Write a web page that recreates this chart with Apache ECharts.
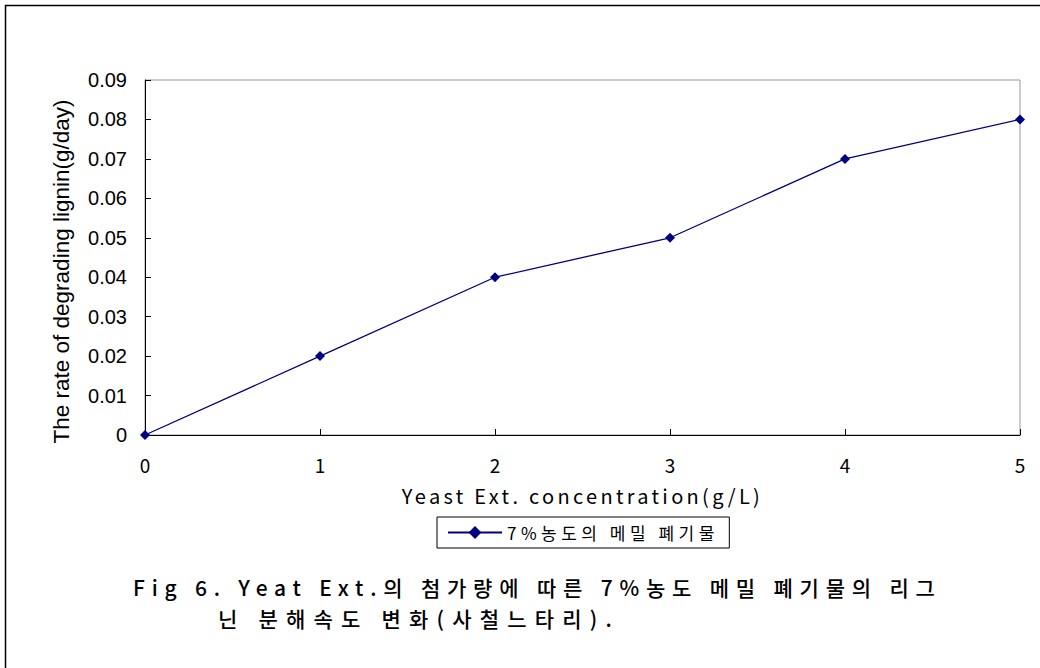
<!DOCTYPE html>
<html><head><meta charset="utf-8">
<script src="https://cdn.jsdelivr.net/npm/echarts@6/dist/echarts.min.js"></script>
<style>html,body{margin:0;padding:0;background:#fff}#c{width:1040px;height:668px}</style>
</head><body><div id="c"></div>
<script>
const xValues = [0, 1, 2, 3, 4, 5];
const yValues = [0, 0.02, 0.04, 0.05, 0.07, 0.08];
const seriesName = '7%농도의 메밀 폐기물';
const xTitle = 'Yeast Ext. concentration(g/L)';
const yTitle = 'The rate of degrading lignin(g/day)';
const captionLine1 = 'Fig 6. Yeat Ext.의 첨가량에 따른 7%농도 메밀 폐기물의 리그';
const captionLine2 = '닌 분해속도 변화(사철느타리).';

const chart = echarts.init(document.getElementById('c'), null, {renderer: 'svg'});
const korFont = '"Noto Sans CJK KR", sans-serif';
const arialFont = '"Liberation Sans", Arial, sans-serif';
const legendSpacing = 4.5;
chart.setOption({
  animation: false,
  backgroundColor: '#fff',
  grid: {left: 145, right: 20, top: 80, bottom: 233, containLabel: false,
         show: true, borderColor: '#999', borderWidth: 1},
  xAxis: {
    type: 'value', min: 0, max: 5, interval: 1,
    name: xTitle, nameLocation: 'middle', nameGap: 50,
    nameTextStyle: {fontFamily: korFont, fontSize: 20, color: '#000'},
    axisLine: {show: true, lineStyle: {color: '#000', width: 1}},
    axisTick: {show: true, inside: true, length: 6, lineStyle: {color: '#000'}},
    axisLabel: {fontFamily: korFont, fontSize: 19, color: '#000', margin: 20},
    splitLine: {show: false}
  },
  yAxis: {
    type: 'value', min: 0, max: 0.09, interval: 0.01,
    name: yTitle, nameLocation: 'middle', nameGap: 72, nameRotate: 90,
    nameTextStyle: {fontFamily: arialFont, fontSize: 22.5, color: '#000', padding: [0, 28, 0, 0]},
    axisLine: {show: true, lineStyle: {color: '#000', width: 1}},
    axisTick: {show: true, inside: true, length: 6, lineStyle: {color: '#000'}},
    axisLabel: {fontFamily: arialFont, fontSize: 20, color: '#000', margin: 18,
      formatter: v => String(Math.round(v * 100) / 100)},
    splitLine: {show: false}
  },
  legend: {
    show: true, left: 437, top: 517, orient: 'horizontal',
    padding: [7, 15 + 11 * legendSpacing, 7, 10], itemGap: 0, itemWidth: 54, itemHeight: 16,
    borderColor: '#000', borderWidth: 1, backgroundColor: '#fff',
    textStyle: {fontFamily: korFont, fontSize: 17, color: '#000'},
    data: [{name: seriesName}]
  },
  graphic: [
    {type: 'rect', left: 3, top: 3, shape: {width: 1100, height: 700},
     style: {fill: 'none', stroke: '#000', lineWidth: 1.5}, silent: true, z: 100},
    {type: 'text', left: 133, top: 575, style: {text: captionLine1, font: '500 21px ' + korFont, lineHeight: 24, fill: '#000'}},
    {type: 'text', left: 218, top: 606, style: {text: captionLine2, font: '500 21px ' + korFont, lineHeight: 24, fill: '#000'}}
  ],
  series: [{
    name: seriesName, type: 'line',
    data: xValues.map((x, i) => [x, yValues[i]]),
    symbol: 'diamond', symbolSize: 10,
    lineStyle: {color: '#000080', width: 1.3},
    itemStyle: {color: '#000080'}
  }]
});
// wide character spacing as in the original figure
const spacingMap = [
  [captionLine1, 6.8], [captionLine2, 8.2], [xTitle, 3.3], [seriesName, legendSpacing]
];
document.querySelectorAll('#c svg text').forEach(t => {
  const s = t.textContent;
  for (const [str, sp] of spacingMap) {
    if (s === str) t.style.letterSpacing = sp + 'px';
  }
});
</script></body></html>
